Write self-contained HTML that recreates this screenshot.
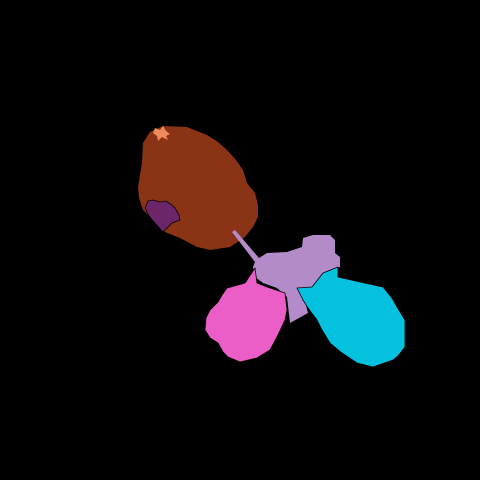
<!DOCTYPE html>
<html><head><meta charset="utf-8"><style>html,body{margin:0;padding:0;background:#000}svg{display:block}</style></head>
<body>
<svg width="480" height="480" viewBox="0 0 480 480">
<rect width="480" height="480" fill="#000"/>
<polygon fill="#8A3315" points="163,126 187,127 207,135 218,142 227,150 236,160 243,170 247,183 255,193 258,205 258,217 253,227 245,237 230,247 210,250 197,247 180,238 165,232 153,220 143,210 139,198 138,187 140,175 142,163 143,143 150,132"/>
<polygon fill="#6A2668" stroke="#000" stroke-width="0.8" points="145,208 148,201 153,200 160,202 166,201 172,205 175,208 179,215 180,220 172,223 163,232 155,223 149,216"/>
<polygon fill="#F08B5C" points="155,128 160,130 163,126 166,131 170,134 166,136 168,140 162,137 158,141 157,136 153,133"/>
<polygon fill="#B38BC9" points="232,232 235,230 259,258 267,253 287,252 302,247 303,238 313,235 330,235 335,240 335,253 340,257 340,267 323,273 312,287 297,288 303,293 308,313 290,323 287,297 277,288 263,283 255,277 253,267 255,262"/>
<polygon fill="#EB5EC7" stroke="#000" stroke-width="0.8" stroke-linejoin="round" points="255,268 257,283 267,287 285,293 287,310 285,320 277,337 270,350 257,358 240,362 228,357 223,352 218,343 210,338 205,330 206,318 210,310 218,302 222,295 227,288 238,285 245,283"/>
<polygon fill="#05C1E0" stroke="#000" stroke-width="0.8" stroke-linejoin="round" points="297,288 312,287 323,273 338,267 338,277 360,282 383,287 392,298 397,307 405,320 405,347 398,356 393,360 373,367 357,363 342,353 330,343 322,330 317,320 308,308 303,300"/>
</svg>
</body></html>
